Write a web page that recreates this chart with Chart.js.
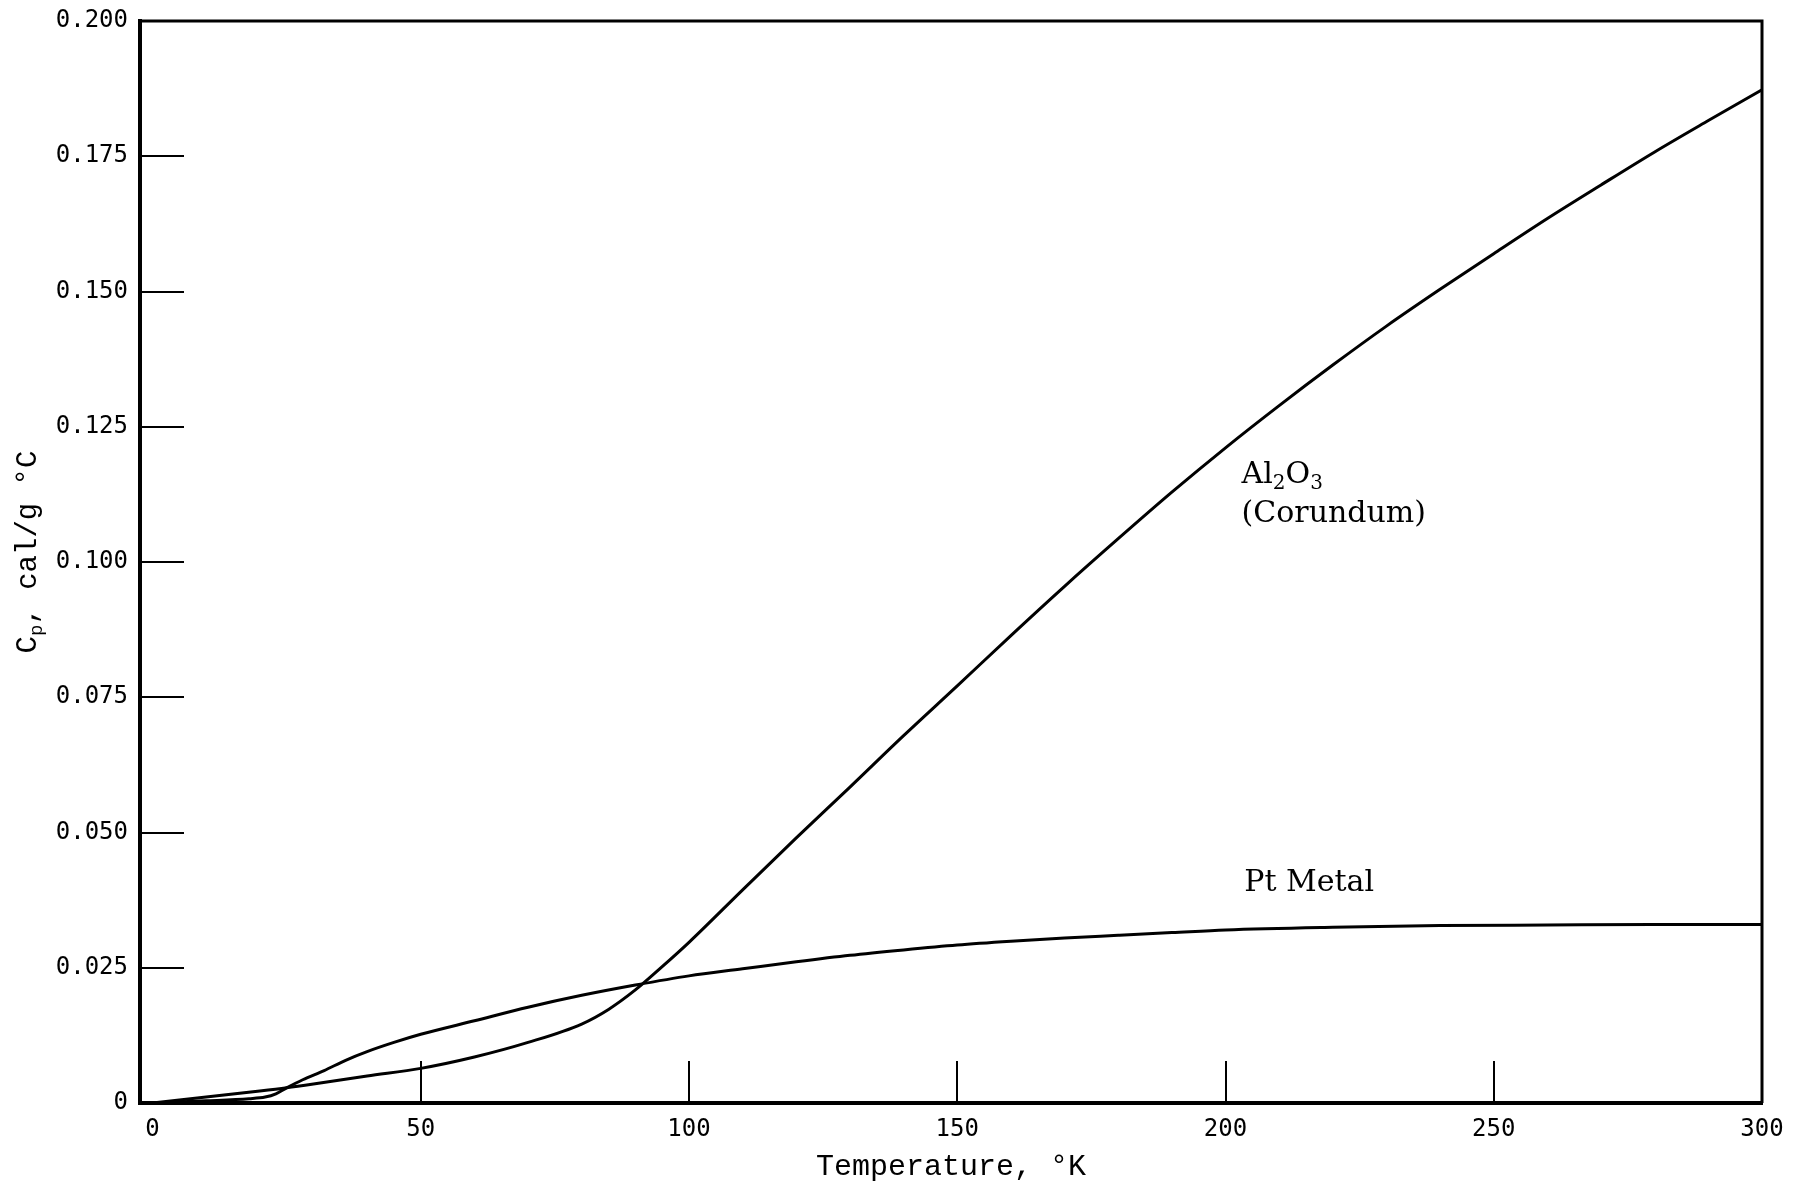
<!DOCTYPE html>
<html>
<head>
<meta charset="utf-8">
<script src="https://cdn.jsdelivr.net/npm/chart.js@4.4.1/dist/chart.umd.min.js"></script>
<style>
  html, body { margin: 0; padding: 0; background: #fff; }
  #wrap { width: 1798px; height: 1185px; }
</style>
</head>
<body>
<div id="wrap"><canvas id="chartCp"></canvas></div>
<script>
// datos (Cp en cal/g °C)
const alTemp = [0, 10, 20, 25, 30, 40, 50, 60, 70, 80, 85, 90, 95, 100, 110, 120, 130, 140, 150, 160, 170, 180, 190, 200, 210, 220, 230, 240, 250, 260, 270, 280, 290, 300];
const alCp = [0, 0.0011, 0.0022, 0.0028, 0.0035, 0.0050, 0.0064, 0.0085, 0.0112, 0.0146, 0.0173, 0.0209, 0.0252, 0.0297, 0.0394, 0.0490, 0.0584, 0.0679, 0.0771, 0.0864, 0.0955, 0.1043, 0.1129, 0.1211, 0.1289, 0.1364, 0.1436, 0.1504, 0.1570, 0.1635, 0.1697, 0.1758, 0.1816, 0.1873];

const ptTemp = [0, 10, 18, 21, 23, 25, 28, 32, 36, 40, 45, 50, 60, 70, 80, 90, 100, 110, 120, 130, 140, 150, 160, 170, 180, 190, 200, 220, 240, 260, 280, 300];
const ptCp = [0, 0.0004, 0.0008, 0.0011, 0.0017, 0.0028, 0.0043, 0.0060, 0.0079, 0.0095, 0.0112, 0.0127, 0.0152, 0.0177, 0.0199, 0.0218, 0.0235, 0.0248, 0.0261, 0.0273, 0.0283, 0.0292, 0.0299, 0.0305, 0.0310, 0.0315, 0.0320, 0.0325, 0.0328, 0.0329, 0.0330, 0.0330];

const xTicks = [0, 50, 100, 150, 200, 250, 300];
const yTicks = [0, 0.025, 0.05, 0.075, 0.1, 0.125, 0.15, 0.175, 0.2];
const yTickLabels = ["0", "0.025", "0.050", "0.075", "0.100", "0.125", "0.150", "0.175", "0.200"];

const xTitle = "Temperature, °K";
const yTitle = [["C", 0], ["p", 1], [", cal/g °C", 0]];

// etiquetas de las curvas: [texto, T, Cp]
const curveLabels = [
  [[["Al", 0], ["2", 1], ["O", 0], ["3", 1]], 203, 0.1165],
  [[["(Corundum)", 0]], 203, 0.1093],
  [[["Pt Metal", 0]], 203.5, 0.0410],
];

const tickFont = { family: "DejaVu Sans Mono", size: 24 };
const serif = "DejaVu Serif";
const mono = "Liberation Mono";

// 🔹 dibuja un texto con subindices
function drawRich(ctx, parts, x, y, size, family, align) {
  const small = Math.round(size * 0.66);
  let total = 0;
  parts.forEach(([t, sub]) => {
    ctx.font = `${sub ? small : size}px "${family}"`;
    total += ctx.measureText(t).width;
  });
  let cx = align === "center" ? x - total / 2 : x;
  ctx.textAlign = "left";
  ctx.textBaseline = "alphabetic";
  parts.forEach(([t, sub]) => {
    ctx.font = `${sub ? small : size}px "${family}"`;
    ctx.fillText(t, cx, y + (sub ? size * 0.22 : 0));
    cx += ctx.measureText(t).width;
  });
}

// 🔹 sin relleno extra de las etiquetas de los ejes
function noPad(s) {
  s.paddingTop = 0;
  s.paddingBottom = 0;
  s.paddingLeft = 0;
  s.paddingRight = 0;
}

const extras = {
  id: "extras",
  afterDraw(chart) {
    const { ctx, chartArea: a, scales } = chart;
    ctx.save();
    ctx.fillStyle = "#000";
    ctx.strokeStyle = "#000";

    // marco superior y derecho
    ctx.lineWidth = 3;
    ctx.beginPath();
    ctx.moveTo(a.left, a.top);
    ctx.lineTo(a.right, a.top);
    ctx.lineTo(a.right, a.bottom);
    ctx.stroke();

    // titulo eje Y (rotado, con subindice)
    ctx.save();
    ctx.translate(36, (a.top + a.bottom) / 2 - 10);
    ctx.rotate(-Math.PI / 2);
    drawRich(ctx, yTitle, 0, 0, 29, mono, "center");
    ctx.restore();

    // etiquetas de curvas
    curveLabels.forEach(([parts, t, cp]) => {
      const px = scales.x.getPixelForValue(t);
      const py = scales.y.getPixelForValue(cp);
      drawRich(ctx, parts, px, py + 10, 30, serif, "left");
    });
    ctx.restore();
  },
};

const ctx = document.getElementById("chartCp").getContext("2d");
Chart.defaults.color = "#000";

new Chart(ctx, {
  type: "line",
  data: {
    datasets: [
      {
        label: "Al2O3 (Corundum)",
        data: alTemp.map((t, i) => ({ x: t, y: alCp[i] })),
        borderColor: "#000",
        borderWidth: 3,
        pointRadius: 0,
        cubicInterpolationMode: "monotone",
        fill: false,
      },
      {
        label: "Pt Metal",
        data: ptTemp.map((t, i) => ({ x: t, y: ptCp[i] })),
        borderColor: "#000",
        borderWidth: 3,
        pointRadius: 0,
        cubicInterpolationMode: "monotone",
        fill: false,
      },
    ],
  },
  options: {
    responsive: true,
    maintainAspectRatio: false,
    animation: false,
    layout: { padding: { top: 21, right: 36, left: 0, bottom: 0 } },
    plugins: {
      legend: { display: false },
      tooltip: { enabled: false },
    },
    scales: {
      x: {
        type: "linear",
        min: -2.33,
        max: 300,
        afterBuildTicks: (s) => { s.ticks = xTicks.map((v) => ({ value: v })); },
        afterFit: (s) => { s.height = 82; noPad(s); },
        border: { display: true, color: "#000", width: 4 },
        grid: {
          drawOnChartArea: false,
          drawTicks: true,
          tickLength: -42,
          lineWidth: 2,
          color: (c) => (c.tick && (c.tick.value === 0 || c.tick.value === 300) ? "rgba(0,0,0,0)" : "#000"),
        },
        ticks: {
          font: tickFont,
          padding: 54,
          maxRotation: 0,
          autoSkip: false,
          callback: (v) => String(v),
        },
        title: {
          display: true,
          text: xTitle,
          font: { family: mono, size: 30 },
          padding: { top: 0, bottom: 0 },
        },
      },
      y: {
        type: "linear",
        min: 0,
        max: 0.2,
        afterBuildTicks: (s) => { s.ticks = yTicks.map((v) => ({ value: v })); },
        afterFit: (s) => { s.width = 140; noPad(s); },
        border: { display: true, color: "#000", width: 4 },
        grid: {
          drawOnChartArea: false,
          drawTicks: true,
          tickLength: -44,
          lineWidth: 2,
          color: (c) => (c.tick && (c.tick.value === 0 || c.tick.value === 0.2) ? "rgba(0,0,0,0)" : "#000"),
        },
        ticks: {
          font: tickFont,
          padding: 56,
          autoSkip: false,
          callback: (v, i) => yTickLabels[i],
        },
        title: { display: false },
      },
    },
  },
  plugins: [extras],
});
</script>
</body>
</html>
